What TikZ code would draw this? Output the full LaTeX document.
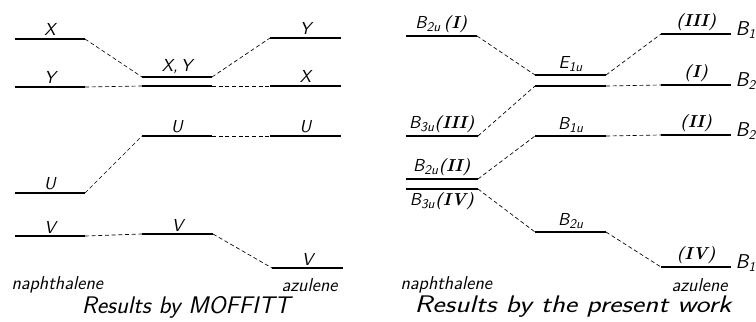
\documentclass[tikz,border=0pt]{standalone}
\usepackage{fontspec}
\usepackage{graphicx}
\usepackage{tikz}

\tikzset{every picture/.style={line width=0.75pt}}
\tikzset{
  level/.style={line width=1.5pt},
  link/.style={line width=0.5pt, dash pattern={on 3pt off 2pt}},
  lbl/.style={font=\fontsize{13}{15}\selectfont\sffamily\itshape, inner sep=1.5pt},
  side/.style={font=\fontsize{15}{17}\selectfont\sffamily\itshape, inner sep=0pt, anchor=west},
  mol/.style={font=\fontsize{14}{16}\selectfont\sffamily\itshape, inner sep=0.75pt},
  captext/.style={font=\fontsize{18}{20}\selectfont\sffamily\itshape, inner sep=0.75pt}
}
\newcommand{\rn}[1]{{\rmfamily\itshape\bfseries #1}}
\newcommand{\lo}[1]{\raisebox{-0.4ex}{\fontsize{10}{12}\selectfont #1}}

\begin{document}
\begin{tikzpicture}[x=0.75pt,y=0.75pt,yscale=-1,xscale=1]
	\useasboundingbox (0,0) rectangle (756,321);

	%Levels, MOFFITT: naphthalene
	\draw [level] (15,39) coordinate (nX-l) -- node [lbl,above] {X} (85,39) coordinate (nX-r);
	\draw [level] (15,87) coordinate (nY-l) -- node [lbl,above] {Y} (85,87) coordinate (nY-r);
	\draw [level] (15,193) coordinate (nU-l) -- node [lbl,above] {U} (85,193) coordinate (nU-r);
	\draw [level] (15,236) coordinate (nV-l) -- node [lbl,above] {V} (85,236) coordinate (nV-r);
	%Levels, MOFFITT: middle
	\draw [level] (142,77) coordinate (mXY-l) -- node [lbl,above] {X,\,Y} (212,77) coordinate (mXY-r);
	\draw [level] (142,86) coordinate (mYX-l) -- (212,86) coordinate (mYX-r);
	\draw [level] (142,136) coordinate (mU-l) -- node [lbl,above] {U} (212,136) coordinate (mU-r);
	\draw [level] (142,234) coordinate (mV-l) -- node [lbl,above] {V} (213,234) coordinate (mV-r);
	%Levels, MOFFITT: azulene
	\draw [level] (270,38) coordinate (aY-l) -- node [lbl,above] {Y} (341,38) coordinate (aY-r);
	\draw [level] (270,86) coordinate (aX-l) -- node [lbl,above] {X} (341,86) coordinate (aX-r);
	\draw [level] (270,136) coordinate (aU-l) -- node [lbl,above] {U} (341,136) coordinate (aU-r);
	\draw [level] (272,268) coordinate (aV-l) -- node [lbl,above] {V} (343,268) coordinate (aV-r);

	%Correlation lines, MOFFITT
	\draw [link] (nX-r) -- (mXY-l);
	\draw [link] (nY-r) -- (mYX-l);
	\draw [link] (mXY-r) -- (aY-l);
	\draw [link] (mYX-r) -- (aX-l);
	\draw [link] (nU-r) -- (mU-l);
	\draw [link] (mU-r) -- (aU-l);
	\draw [link] (nV-r) -- (mV-l);
	\draw [link] (mV-r) -- (aV-l);

	%Levels, present work: naphthalene
	\draw [level] (406,36) coordinate (pB2I-l) -- node [lbl,above] {B\lo{2u}\,\rn{(I)}} (477,36) coordinate (pB2I-r);
	\draw [level] (406,136) coordinate (pB3III-l) -- node [lbl,above] {B\lo{3u}\rn{(III)}} (478,136) coordinate (pB3III-r);
	\draw [level] (406,179) coordinate (pB2II-l) -- node [lbl,above] {B\lo{2u}\rn{(II)}} (478,179) coordinate (pB2II-r);
	\draw [level] (406,189) coordinate (pB3IV-l) -- node [lbl,below] {B\lo{3u}\rn{(IV)}} (478,189) coordinate (pB3IV-r);
	%Levels, present work: middle
	\draw [level] (535,75) coordinate (qE1-l) -- node [lbl,above] {E\lo{1u}} (606,75) coordinate (qE1-r);
	\draw [level] (535,86) coordinate (qE2-l) -- (606,86) coordinate (qE2-r);
	\draw [level] (535,136) coordinate (qB1-l) -- node [lbl,above] {B\lo{1u}} (606,136) coordinate (qB1-r);
	\draw [level] (535,232) coordinate (qB2-l) -- node [lbl,above] {B\lo{2u}} (606,232) coordinate (qB2-r);
	%Levels, present work: azulene
	\draw [level] (661,34) coordinate (rIII-l) -- node [lbl,above] {\rn{(III)}} (731,34) coordinate (rIII-r);
	\draw [level] (661,85) coordinate (rI-l) -- node [lbl,above] {\rn{(I)}} (731,85) coordinate (rI-r);
	\draw [level] (661,135) coordinate (rII-l) -- node [lbl,above] {\rn{(II)}} (731,135) coordinate (rII-r);
	\draw [level] (661,267) coordinate (rIV-l) -- node [lbl,above] {\rn{(IV)}} (731,267) coordinate (rIV-r);
	\node [side] (sIII) at ([xshift=3, yshift=-3]rIII-r) {B\lo{1}};
	\node [side] (sI) at ([xshift=3, yshift=-3]rI-r) {B\lo{2}};
	\node [side] (sII) at ([xshift=3, yshift=-3]rII-r) {B\lo{2}};
	\node [side] (sIV) at ([xshift=3, yshift=-3]rIV-r) {B\lo{1}};

	%Correlation lines, present work
	\draw [link] (pB2I-r) -- (qE1-l);
	\draw [link] (pB3III-r) -- (qE2-l);
	\draw [link] (qE1-r) -- (rIII-l);
	\draw [link] (qE2-r) -- (rI-l);
	\draw [link] (pB2II-r) -- (qB1-l);
	\draw [link] (qB1-r) -- (rII-l);
	\draw [link] (pB3IV-r) -- (qB2-l);
	\draw [link] (qB2-r) -- (rIV-l);

	% Text Node
	\draw (10,285) node [anchor=west] [mol] (naph1) {naphthalene};
	% Text Node
	\draw (339,285) node [anchor=east] [mol] (azu1) {azulene};
	% Text Node
	\draw (186,307) node [captext] (res1) {\scalebox{1.03}[1]{Results by MOFFITT}};
	% Text Node
	\draw (399,285) node [anchor=west] [mol] (naph2) {naphthalene};
	% Text Node
	\draw (729,285) node [anchor=east] [mol] (azu2) {azulene};
	% Text Node
	\draw (573,307) node [captext] (res2) {\scalebox{1.22}[1]{Results by the present work}};
\end{tikzpicture}
\end{document}
